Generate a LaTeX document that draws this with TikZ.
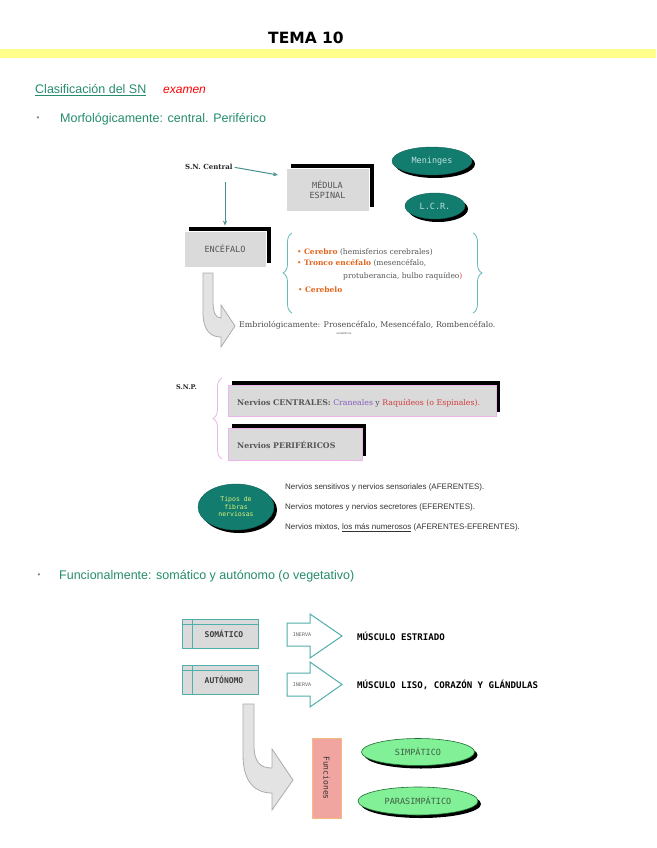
\documentclass[tikz,border=0pt]{standalone}
\usepackage{fontspec}
\setmainfont{DejaVu Serif}
\setsansfont{Liberation Sans}
\setmonofont{DejaVu Sans Mono}
\newfontfamily\titlefont{DejaVu Sans}
\usetikzlibrary{shapes.geometric,shadows,decorations.pathreplacing,arrows.meta}
\newcommand\fsz[2]{\fontsize{#1}{#2}\selectfont}
\definecolor{hgreen}{RGB}{38,140,110}
\definecolor{yellowbar}{RGB}{255,255,140}
\definecolor{tealfill}{RGB}{18,125,110}
\definecolor{boxgray}{RGB}{218,218,218}
\definecolor{arrowteal}{RGB}{70,145,145}
\definecolor{bracet}{RGB}{100,185,185}
\definecolor{orangeb}{RGB}{225,100,30}
\definecolor{txtgray}{RGB}{85,85,85}
\definecolor{purplet}{RGB}{130,90,190}
\definecolor{redt}{RGB}{210,60,60}
\definecolor{pinkb}{RGB}{235,180,235}
\definecolor{somteal}{RGB}{80,175,170}
\definecolor{salmon}{RGB}{240,165,160}
\definecolor{salmonb}{RGB}{245,185,130}
\definecolor{lgreen}{RGB}{130,240,150}
\definecolor{dgreen}{RGB}{30,110,50}
\definecolor{tiptext}{RGB}{220,240,120}
\begin{document}
\begin{tikzpicture}[x=1pt,y=-1pt,
  heading/.style={anchor=west,inner sep=0,font=\sffamily\fsz{12.5}{14},text=hgreen},
  shadowbox/.style={rectangle,fill=boxgray,draw=white,line width=0.8pt,
    drop shadow={shadow xshift=5pt,shadow yshift=4pt,fill=black,opacity=1},
    font=\ttfamily\fsz{8.5}{10.5},text=txtgray,inner sep=0,align=center},
  snpbox/.style={rectangle,fill=boxgray,draw=pinkb,line width=0.8pt,
    drop shadow={shadow xshift=4pt,shadow yshift=4pt,fill=black,opacity=1},inner sep=0},
  tealell/.style={ellipse,fill=tealfill,draw=tealfill!80!black,
    drop shadow={shadow xshift=3pt,shadow yshift=-3pt,fill=black,opacity=1},
    inner sep=0,font=\ttfamily\fsz{8.5}{10}},
  greenell/.style={ellipse,fill=lgreen,draw=dgreen,line width=0.6pt,
    drop shadow={shadow xshift=3pt,shadow yshift=-3pt,fill=black,opacity=1},
    inner sep=0,font=\ttfamily\fsz{8.5}{10},text=dgreen!50!black!80},
  tarrow/.style={draw=arrowteal,line width=1pt,-{Stealth[length=5pt,width=4pt]}},
  bigarrow/.style={fill=gray!22,draw=gray!65,line width=0.8pt},
  blockarrow/.style={fill=white,draw=somteal,line width=1pt,line join=miter},
  funcbox/.style={rectangle,fill=boxgray,draw=somteal,line width=1pt,inner sep=0,
    minimum width=76pt,minimum height=29pt,font=\ttfamily\bfseries\fsz{8}{10},text=black!75,
    path picture={\draw[somteal,line width=0.8pt]
      ([xshift=10pt]path picture bounding box.south west) -- ([xshift=10pt]path picture bounding box.north west)
      ([yshift=-5pt]path picture bounding box.north west) -- ([yshift=-5pt]path picture bounding box.north east);}},
  serift/.style={anchor=west,inner sep=0,font=\fsz{7.5}{9},text=txtgray},
  fibra/.style={anchor=west,inner sep=0,font=\sffamily\fsz{8}{9.5},text=black!80},
  musc/.style={anchor=west,inner sep=0,font=\ttfamily\bfseries\fsz{9.1}{10},text=black}
]
\useasboundingbox (0,0) rectangle (656,848);
\fill[white] (0,0) rectangle (656,848);

% title
\node[font=\titlefont\bfseries\fsz{15.5}{18}] (title) at (306,38) {TEMA 10};
\fill[yellowbar] (0,49) rectangle (656,58);

% headings
\node[heading] (clas) at (35,90) {\underline{Clasificación del SN}};
\node[anchor=west,inner sep=0,text=red,font=\sffamily\itshape\fsz{12}{14}] (exam) at (163,90) {examen};
\node[anchor=center,inner sep=0,font=\sffamily\fsz{8}{10},text=gray] (b1) at (38,119) {•};
\node[heading] (morf) at (60,119) {Morfológicamente: central. Periférico};

% central nervous system
\node[anchor=west,inner sep=0,font=\bfseries\fsz{7}{9},text=black!85] (sncentral) at (185,167) {S.N. Central};
\node[shadowbox,minimum width=83pt,minimum height=43pt] (medula) at (327.5,189.5) {MÉDULA\\ESPINAL};
\node[shadowbox,minimum width=82pt,minimum height=36pt] (encefalo) at (225,249) {ENCÉFALO};
\node[tealell,minimum width=80pt,minimum height=28pt,text=teal!25!white] (meninges) at (432,161) {Meninges};
\node[tealell,minimum width=60pt,minimum height=26pt,text=teal!25!white] (lcr) at (435,206) {L.C.R.};
\coordinate (a1e) at (278,175);
\draw[tarrow,shorten <=2pt] (sncentral.east) -- (a1e);
\draw[tarrow,shorten <=12pt,shorten >=5pt] (encefalo.north |- sncentral.south) -- (encefalo.north);

% braces
\draw[bracet,line width=0.8pt,decorate,decoration={brace,amplitude=9pt}] (292,313) -- (292,233);
\draw[bracet,line width=0.8pt,decorate,decoration={brace,amplitude=9pt}] (473,233) -- (473,313);
\node[serift] (cerebro) at (297,252) {\textcolor{orangeb}{• \textbf{Cerebro}} (hemisferios cerebrales)};
\node[serift] (tronco) at (297,263.5) {\textcolor{orangeb}{• \textbf{Tronco encéfalo}} (mesencéfalo,};
\node[serift] (protu) at (343,276) {protuberancia, bulbo raquídeo\textcolor{redt}{)}};
\node[serift] (cerebelo) at (298,290) {\textcolor{orangeb}{• \textbf{Cerebelo}}};

% curved arrow 1
\path[bigarrow] (203,273) -- (203,312) .. controls (203,330) and (210,337) .. (221,337)
  -- (221,347) -- (235,326) -- (221,305) -- (221,318)
  .. controls (215,318) and (213,312) .. (213,300) -- (213,273) -- cycle;
\node[serift,font=\fsz{7.9}{9},text=black!70] (embrio) at (239,325) {Embriológicamente: Prosencéfalo, Mesencéfalo, Rombencéfalo.};
\node[inner sep=0,font=\fsz{3}{3},text=txtgray] (tiny) at (344,333) {sensitivos};

% peripheral nervous system
\node[anchor=west,inner sep=0,font=\bfseries\fsz{6.5}{8},text=black!85] (snp) at (176,387) {S.N.P.};
\draw[pinkb,line width=0.8pt,decorate,decoration={brace,amplitude=9pt}] (222,459) -- (222,378);
\node[snpbox,minimum width=268pt,minimum height=31pt] (centrales) at (362,400.5) {};
\node[serift,font=\fsz{7.8}{9}] (centralest) at (237,403) {\textbf{Nervios CENTRALES:} \textcolor{purplet}{Craneales} y \textcolor{redt}{Raquídeos (o Espinales).}};
\node[snpbox,minimum width=134pt,minimum height=32pt] (perif) at (295,444) {};
\node[serift,font=\fsz{7.8}{9}] (periferict) at (237,445) {\textbf{Nervios PERIFÉRICOS}};

% fibres
\node[tealell,minimum width=76pt,minimum height=46pt,align=center,text=tiptext,font=\ttfamily\fsz{6.5}{7.5}] (tipos) at (236,507) {Tipos de\\fibras\\nerviosas};
\node[fibra] (f1) at (285,487) {Nervios sensitivos y nervios sensoriales (AFERENTES).};
\node[fibra] (f2) at (285,507) {Nervios motores y nervios secretores (EFERENTES).};
\node[fibra] (f3) at (285,527.5) {Nervios mixtos, \underline{los más numerosos} (AFERENTES-EFERENTES).};

% functional
\node[anchor=center,inner sep=0,font=\sffamily\fsz{8}{10},text=gray] (b2) at (39,576) {•};
\node[heading] (funcional) at (59,576) {Funcionalmente: somático y autónomo (o vegetativo)};

\node[funcbox] (somatico) at (220,633.5) {\hspace*{8pt}SOMÁTICO};
\node[funcbox] (autonomo) at (220,679.5) {\hspace*{8pt}AUTÓNOMO};

\path[blockarrow] (287,623) -- (310,623) -- (310,614) -- (342,636) -- (310,658) -- (310,646) -- (287,646) -- cycle;
\path[blockarrow] (287,673) -- (310,673) -- (310,662) -- (342,684.5) -- (310,707) -- (310,696) -- (287,696) -- cycle;
\node[inner sep=0,font=\ttfamily\fsz{5}{6},text=black!60] (inerva1) at (302,635) {INERVA};
\node[inner sep=0,font=\ttfamily\fsz{5}{6},text=black!60] (inerva2) at (302,685) {INERVA};
\node[musc] (estriado) at (357,636) {MÚSCULO ESTRIADO};
\node[musc] (liso) at (357,685) {MÚSCULO LISO, CORAZÓN Y GLÁNDULAS};

% curved arrow 2
\path[bigarrow] (243,704) -- (243,755) .. controls (243,782) and (255,793) .. (272,793)
  -- (272,810) -- (293,780) -- (272,749) -- (272,768)
  .. controls (260,768) and (254,762) .. (254,745) -- (254,704) -- cycle;

\node[rectangle,rotate=-90,fill=salmon,draw=salmonb,line width=1pt,minimum width=80pt,minimum height=29pt,inner sep=0,
  font=\ttfamily\fsz{8}{10},text=black!80] (funciones) at (326.5,778) {Funciones};
\node[greenell,minimum width=113pt,minimum height=27pt] (simpatico) at (418,752) {SIMPÁTICO};
\node[greenell,minimum width=120pt,minimum height=28pt] (parasimpatico) at (418,801) {PARASIMPÁTICO};
\end{tikzpicture}
\end{document}
